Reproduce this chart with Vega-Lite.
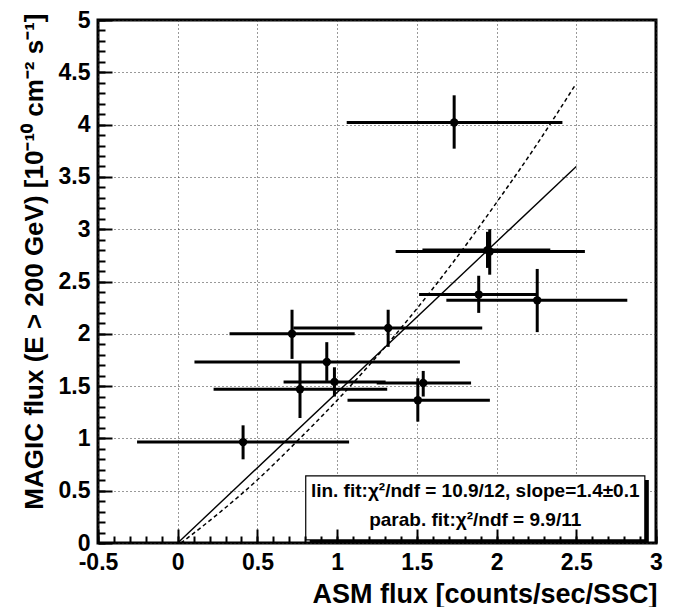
{
  "$schema": "https://vega.github.io/schema/vega-lite/v6.json",
  "width": 558,
  "height": 523,
  "autosize": {"type": "none"},
  "padding": {"left": 98, "top": 20, "right": 24, "bottom": 64},
  "background": "white",
  "config": {"view": {"stroke": "black", "strokeWidth": 3}, "font": "Liberation Sans"},
  "datasets": {
    "points": [
      {"x": 0.41, "y": 0.965, "xlo": -0.255, "xhi": 1.075, "ylo": 0.8, "yhi": 1.125},
      {"x": 0.717, "y": 2.0, "xlo": 0.325, "xhi": 1.11, "ylo": 1.76, "yhi": 2.23},
      {"x": 1.32, "y": 2.055, "xlo": 0.725, "xhi": 1.91, "ylo": 1.875, "yhi": 2.23},
      {"x": 0.935, "y": 1.73, "xlo": 0.105, "xhi": 1.77, "ylo": 1.55, "yhi": 1.92},
      {"x": 0.983, "y": 1.54, "xlo": 0.664, "xhi": 1.304, "ylo": 1.4, "yhi": 1.68},
      {"x": 0.767, "y": 1.47, "xlo": 0.225, "xhi": 1.314, "ylo": 1.195, "yhi": 1.74},
      {"x": 1.54, "y": 1.53, "xlo": 1.248, "xhi": 1.84, "ylo": 1.4, "yhi": 1.645},
      {"x": 1.506, "y": 1.365, "xlo": 1.065, "xhi": 1.958, "ylo": 1.16, "yhi": 1.575},
      {"x": 1.888, "y": 2.375, "xlo": 1.514, "xhi": 2.255, "ylo": 2.2, "yhi": 2.555},
      {"x": 2.255, "y": 2.32, "xlo": 1.685, "xhi": 2.82, "ylo": 2.016, "yhi": 2.62},
      {"x": 1.943, "y": 2.8, "xlo": 1.535, "xhi": 2.337, "ylo": 2.63, "yhi": 2.975},
      {"x": 1.957, "y": 2.787, "xlo": 1.367, "xhi": 2.554, "ylo": 2.565, "yhi": 3.0},
      {"x": 1.734, "y": 4.02, "xlo": 1.06, "xhi": 2.413, "ylo": 3.77, "yhi": 4.28}
    ],
    "linfit": [
      {"x": 0, "y": 0},
      {"x": 2.5, "y": 3.6}
    ],
    "parfit": [
      {"x": 0.02, "y": 0},
      {"x": 0.25, "y": 0.275},
      {"x": 0.5, "y": 0.604},
      {"x": 0.75, "y": 0.975},
      {"x": 1.0, "y": 1.365},
      {"x": 1.25, "y": 1.785},
      {"x": 1.5, "y": 2.24},
      {"x": 1.75, "y": 2.73},
      {"x": 2.0, "y": 3.255},
      {"x": 2.25, "y": 3.805},
      {"x": 2.49, "y": 4.37}
    ]
  },
  "layer": [
    {
      "data": {"name": "points"},
      "mark": {"type": "rule", "color": "black", "strokeWidth": 3},
      "encoding": {
        "x": {
          "field": "xlo", "type": "quantitative",
          "scale": {"domain": [-0.5, 3], "nice": false, "zero": false},
          "axis": {
            "orient": "bottom",
            "values": [-0.5, 0, 0.5, 1, 1.5, 2, 2.5, 3],
            "labelExpr": "'' + datum.value",
            "ticks": false,
            "domain": false,
            "grid": true, "gridDash": [1, 3], "gridColor": "#333", "gridWidth": 1,
            "labelFont": "Liberation Sans", "labelFontSize": 23, "labelFontWeight": "bold",
            "labelColor": "black", "labelPadding": 8, "labelFlush": false, "labelOverlap": false,
            "title": "ASM flux [counts/sec/SSC]",
            "titleFont": "Liberation Sans", "titleFontSize": 27, "titleFontWeight": "bold",
            "titleColor": "black", "titleAnchor": "end", "titleAlign": "right",
            "titleBaseline": "alphabetic", "titleX": 559, "titleY": 59
          }
        },
        "x2": {"field": "xhi"},
        "y": {
          "field": "y", "type": "quantitative",
          "scale": {"domain": [0, 5], "nice": false, "zero": false},
          "axis": {
            "orient": "left",
            "values": [0, 0.5, 1, 1.5, 2, 2.5, 3, 3.5, 4, 4.5, 5],
            "labelExpr": "'' + datum.value",
            "ticks": false,
            "domain": false,
            "grid": true, "gridDash": [1, 3], "gridColor": "#333", "gridWidth": 1,
            "labelFont": "Liberation Sans", "labelFontSize": 23, "labelFontWeight": "bold",
            "labelColor": "black", "labelPadding": 8, "labelFlush": false, "labelOverlap": false,
            "title": "MAGIC flux (E > 200 GeV) [10⁻¹⁰ cm⁻² s⁻¹]",
            "titleFont": "Liberation Sans", "titleFontSize": 26, "titleFontWeight": "bold",
            "titleColor": "black", "titleAngle": 270, "titleAlign": "right",
            "titleBaseline": "alphabetic", "titleX": -56, "titleY": -7
          }
        }
      }
    },
    {
      "data": {"name": "points"},
      "mark": {"type": "rule", "color": "black", "strokeWidth": 3},
      "encoding": {
        "x": {
          "field": "x", "type": "quantitative",
          "axis": {
            "orient": "bottom", "zindex": 3,
            "values": [-0.5, 0, 0.5, 1, 1.5, 2, 2.5, 3],
            "labels": false, "grid": false, "domain": false, "title": null,
            "offset": -14,
            "ticks": true, "tickSize": 14, "tickWidth": 2, "tickColor": "black", "tickOpacity": 1
          }
        },
        "y": {
          "field": "ylo", "type": "quantitative",
          "axis": {
            "orient": "right", "zindex": 3,
            "values": [0, 0.5, 1, 1.5, 2, 2.5, 3, 3.5, 4, 4.5, 5],
            "labels": false, "grid": false, "domain": false, "title": null,
            "offset": -558,
            "ticks": true, "tickSize": 14, "tickWidth": 2, "tickColor": "black", "tickOpacity": 1
          }
        },
        "y2": {"field": "yhi"}
      }
    },
    {
      "data": {"name": "points"},
      "mark": {"type": "circle", "color": "black", "opacity": 1, "size": 70},
      "encoding": {
        "x": {
          "field": "x", "type": "quantitative",
          "axis": {
            "orient": "bottom", "zindex": 3,
            "tickCount": 35,
            "labels": false, "grid": false, "domain": false, "title": null,
            "offset": -7,
            "ticks": true, "tickSize": 7, "tickWidth": 2, "tickColor": "black", "tickOpacity": 1
          }
        },
        "y": {
          "field": "y", "type": "quantitative",
          "axis": {
            "orient": "right", "zindex": 3,
            "tickCount": 50,
            "labels": false, "grid": false, "domain": false, "title": null,
            "offset": -558,
            "ticks": true, "tickSize": 7, "tickWidth": 2, "tickColor": "black", "tickOpacity": 1
          }
        }
      }
    },
    {
      "data": {"name": "linfit"},
      "mark": {"type": "line", "color": "black", "strokeWidth": 1.4},
      "encoding": {
        "x": {"field": "x", "type": "quantitative", "axis": null},
        "y": {"field": "y", "type": "quantitative", "axis": null}
      }
    },
    {
      "data": {"name": "parfit"},
      "mark": {"type": "line", "color": "black", "strokeWidth": 1.5, "strokeDash": [4, 3], "interpolate": "monotone"},
      "encoding": {
        "x": {"field": "x", "type": "quantitative", "axis": null},
        "y": {"field": "y", "type": "quantitative", "axis": null}
      }
    },
    {
      "data": {"values": [{}]},
      "mark": {"type": "rect", "color": "black"},
      "encoding": {
        "x": {"datum": 0.828, "type": "quantitative", "axis": null},
        "x2": {"datum": 2.955},
        "y": {"datum": 0.602, "type": "quantitative", "axis": null},
        "y2": {"datum": 0.0}
      }
    },
    {
      "data": {"values": [{}]},
      "mark": {"type": "rect", "fill": "white", "stroke": "black", "strokeWidth": 1.2},
      "encoding": {
        "x": {"datum": 0.803, "type": "quantitative", "axis": null},
        "x2": {"datum": 2.93},
        "y": {"datum": 0.641, "type": "quantitative", "axis": null},
        "y2": {"datum": 0.029}
      }
    },
    {
      "data": {"values": [{}]},
      "mark": {"type": "text", "font": "Liberation Sans", "fontSize": 19, "fontWeight": "bold", "color": "black", "align": "center", "baseline": "alphabetic"},
      "encoding": {
        "x": {"datum": 1.866, "type": "quantitative", "axis": null},
        "y": {"datum": 0.435, "type": "quantitative", "axis": null},
        "text": {"value": "lin. fit:χ²/ndf = 10.9/12, slope=1.4±0.1"}
      }
    },
    {
      "data": {"values": [{}]},
      "mark": {"type": "text", "font": "Liberation Sans", "fontSize": 19, "fontWeight": "bold", "color": "black", "align": "center", "baseline": "alphabetic"},
      "encoding": {
        "x": {"datum": 1.866, "type": "quantitative", "axis": null},
        "y": {"datum": 0.16, "type": "quantitative", "axis": null},
        "text": {"value": "parab. fit:χ²/ndf = 9.9/11"}
      }
    }
  ],
  "resolve": {"axis": {"x": "independent", "y": "independent"}}
}
